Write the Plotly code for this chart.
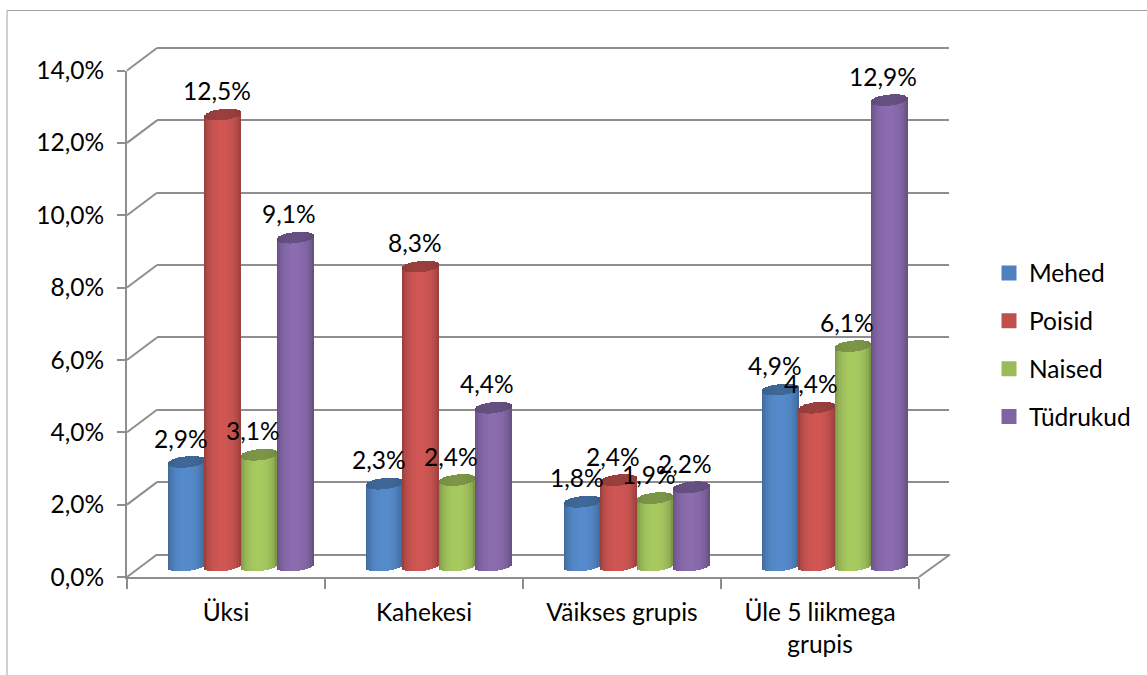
import math
import plotly.graph_objects as go

categories = ["Üksi", "Kahekesi", "Väikses grupis", "Üle 5 liikmega<br>grupis"]
series_names = ["Mehed", "Poisid", "Naised", "Tüdrukud"]
mehed = [2.9, 2.3, 1.8, 4.9]
poisid = [12.5, 8.3, 2.4, 4.4]
naised = [3.1, 2.4, 1.9, 6.1]
tydrukud = [9.1, 4.4, 2.2, 12.9]
series_values = [mehed, poisid, naised, tydrukud]
colors = ["#4F81BD", "#C0504D", "#9BBB59", "#8064A2"]
tick_values = [0, 2, 4, 6, 8, 10, 12, 14]
tick_labels = ["0,0%", "2,0%", "4,0%", "6,0%", "8,0%", "10,0%", "12,0%", "14,0%"]

W, H = 1147, 675
FONT = "Lato"
FS = 24.5
GRID = "#8E8E8E"


def px(v):
    return v / W


def py(v):
    return 1 - v / H


def shade(hex_c, f):
    r, g, b = [int(hex_c[i:i + 2], 16) for i in (1, 3, 5)]
    return "rgb(%d,%d,%d)" % tuple(min(255, round(c * f)) for c in (r, g, b))


# pixel frames: front (127..919, 577..70.5), bars shifted (+15,-11), back wall (+30,-22.5)
X0, X1, Y0, Y14 = 127, 919, 577, 70.5
SCALE = (Y0 - Y14) / 14


def xdom(dx):
    return [px(X0 + dx), px(X1 + dx)]


def ydom(dy, lo=0.0, hi=14.0):
    return [py(Y0 - dy - lo * SCALE), py(Y0 - dy - hi * SCALE)]


fig = go.Figure()

BAR_W = 36.3 / 198
N = 24
E = 4.5 / SCALE
E_TOP = 5.2 / SCALE
K = 1.8 / SCALE

for s, (name, vals, col) in enumerate(zip(series_names, series_values, colors)):
    off0 = (s - 2) * BAR_W
    # the plain value bar (hidden beneath the cylinder shading)
    fig.add_trace(go.Bar(x=categories, y=vals, name=name, xaxis="x3", yaxis="y3",
                         width=BAR_W * 0.8, offset=off0 + BAR_W * 0.1,
                         marker=dict(color=col, line=dict(width=0)), showlegend=False,
                         hovertemplate="%{x}: %{y}%<extra>" + name + "</extra>"))
    xs, bases, heights, offs, cols, cap_b, cap_h, cap_c = [], [], [], [], [], [], [], []
    for c, v in zip(categories, vals):
        for i in range(N):
            t = (i + 0.5) / N * 2 - 1
            rnd = math.sqrt(1 - t * t)
            xs.append(c)
            offs.append(off0 + i / N * BAR_W)
            bottom = -E * rnd + K * t
            front = v - E_TOP * rnd + K * t
            bases.append(bottom)
            heights.append(front - bottom)
            cols.append(shade(col, 0.68 + 0.40 * rnd ** 0.9))
            cap_b.append(front - 0.02)
            cap_h.append(2 * E_TOP * rnd + 0.02)
            cap_c.append(shade(col, 0.70 + 0.10 * rnd))
    w = [BAR_W / N * 1.25] * len(xs)
    fig.add_trace(go.Bar(x=xs, y=heights, base=bases, offset=offs, width=w, xaxis="x3", yaxis="y3",
                         marker=dict(color=cols, line=dict(width=0)), showlegend=False, hoverinfo="skip"))
    fig.add_trace(go.Bar(x=xs, y=cap_h, base=cap_b, offset=offs, width=w, xaxis="x3", yaxis="y3",
                         marker=dict(color=cap_c, line=dict(width=0)), showlegend=False, hoverinfo="skip"))
    # legend entry
    fig.add_trace(go.Scatter(x=[None], y=[None], mode="markers", name=name, legendgroup=name,
                             marker=dict(symbol="square", size=15, color=col), xaxis="x3", yaxis="y3"))

axis_font = dict(family=FONT, size=FS, color="#000000")
annotations = []
for s, vals in enumerate(series_values):
    for i, v in enumerate(vals):
        annotations.append(dict(x=i + (s - 1.5) * BAR_W, y=v, xref="x3", yref="y3",
                                text=("%.1f%%" % v).replace(".", ","), showarrow=False,
                                xshift=-6, yshift=23, yanchor="middle", xanchor="center", font=axis_font))

shapes = []
line = dict(color=GRID, width=2)
# diagonal connectors from the front axis to the back wall
for tv in tick_values:
    y = Y0 - (Y0 - Y14) * tv / 14
    shapes.append(dict(type="line", xref="paper", yref="paper", x0=px(X0), x1=px(X0 + 30),
                       y0=py(y), y1=py(y - 22.5), line=line))
shapes.append(dict(type="line", xref="paper", yref="paper", x0=px(X1), x1=px(X1 + 31),
                   y0=py(Y0), y1=py(Y0 - 22.5), line=line))
# page border of the source picture
shapes.append(dict(type="line", xref="paper", yref="paper", x0=px(7), x1=1, y0=py(10.5), y1=py(10.5),
                   line=dict(color="#A0A0A0", width=1)))
shapes.append(dict(type="line", xref="paper", yref="paper", x0=px(7), x1=px(7), y0=py(10.5), y1=0,
                   line=dict(color="#A0A0A0", width=1)))

hidden = dict(showticklabels=False, ticks="", showline=False, showgrid=False, zeroline=False)

fig.update_layout(
    width=W, height=H, autosize=False, margin=dict(l=0, r=0, t=0, b=0, autoexpand=False),
    paper_bgcolor="white", plot_bgcolor="rgba(0,0,0,0)",
    barmode="overlay", bargap=0, font=dict(family=FONT, size=FS, color="#000000"),
    # back wall (range slightly wider so the 0 and 14 grid lines are kept)
    xaxis=dict(domain=xdom(30), type="category", categoryorder="array", categoryarray=categories,
               range=[-0.5, 3.5], anchor="y", **hidden),
    yaxis=dict(domain=ydom(22.5, -0.2, 14.2), range=[-0.2, 14.2], anchor="x", tickvals=tick_values, showticklabels=False,
               ticks="", showline=False, showgrid=True, gridcolor=GRID, gridwidth=2, zeroline=False),
    # front axes with the labels
    xaxis2=dict(domain=xdom(0), type="category", categoryorder="array", categoryarray=categories,
                range=[-0.5, 3.5], anchor="y2", tickson="boundaries", ticks="outside", ticklen=10, tickwidth=2,
                tickcolor=GRID, showline=True, linecolor=GRID, linewidth=2, tickfont=axis_font, showgrid=False,
                zeroline=False, ticklabelstandoff=13),
    yaxis2=dict(domain=ydom(0), range=[0, 14], anchor="x2", tickmode="array", tickvals=tick_values,
                ticktext=tick_labels, ticks="outside", ticklen=8, tickwidth=2, tickcolor=GRID, showline=True,
                linecolor=GRID, linewidth=2, tickfont=axis_font, showgrid=False, zeroline=False, ticklabelstandoff=8),
    # bars (range extends below zero so that the rounded feet are not clipped)
    xaxis3=dict(domain=xdom(15), type="category", categoryorder="array", categoryarray=categories,
                range=[-0.5, 3.5], anchor="y3", **hidden),
    yaxis3=dict(domain=ydom(11, -0.6, 14.0), range=[-0.6, 14.0], anchor="x3", **hidden),
    legend=dict(x=px(989), y=py(250.5), xanchor="left", yanchor="top", tracegroupgap=13,
                font=axis_font, bgcolor="rgba(0,0,0,0)", itemsizing="trace"),
    annotations=annotations, shapes=shapes,
)
fig.add_trace(go.Scatter(x=[None], y=[None], xaxis="x2", yaxis="y2", showlegend=False))
fig.add_trace(go.Scatter(x=[None], y=[None], xaxis="x", yaxis="y", showlegend=False))

fig.write_html("out.html", config=dict(displayModeBar=False),
               post_script="document.body.style.margin='0';document.documentElement.style.overflow='hidden';")
